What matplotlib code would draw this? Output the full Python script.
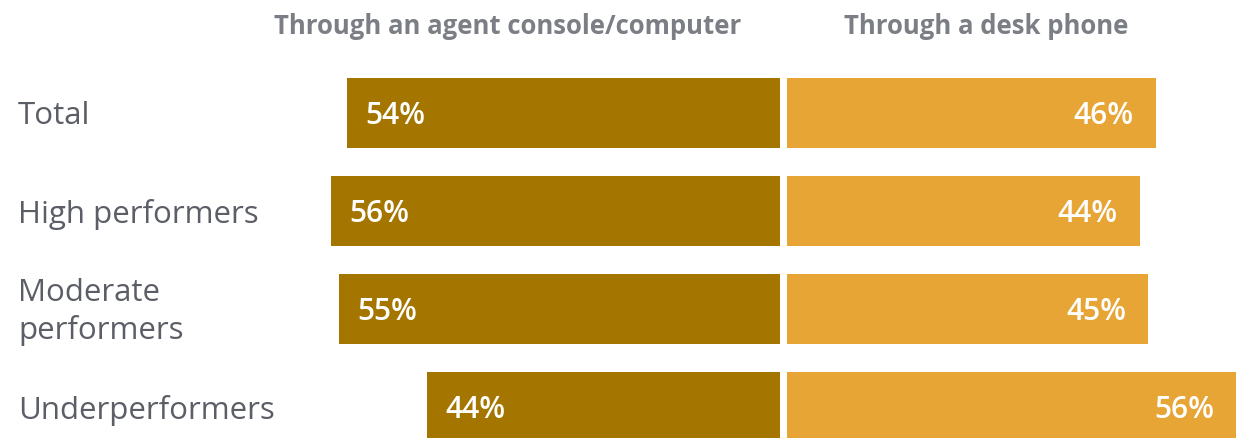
import matplotlib.pyplot as plt

# survey answers, share of agents (%)
categories = ["Total", "High performers", "Moderate\nperformers", "Underperformers"]
console_pct = [54, 56, 55, 44]
deskphone_pct = [46, 44, 45, 56]
headers = ["Through an agent console/computer", "Through a desk phone"]

DARK = "#A47600"
LIGHT = "#E6A535"
LABEL_GREY = "#5B5E66"
HEAD_GREY = "#7B7E84"

plt.rcParams['font.family'] = ['Open Sans', 'DejaVu Sans']

W, H = 1246, 438
fig = plt.figure(figsize=(W / 100, H / 100), dpi=100)
ax = fig.add_axes([0, 0, 1, 1])

px_per_pct = 8.02
center_px = 783.5
gap = 3.5 / px_per_pct  # half of the white gap in the middle

ys = range(len(categories))
bar_h = 70 / 98

ax.barh(ys, [-v for v in console_pct], left=-gap, height=bar_h, color=DARK)
ax.barh(ys, deskphone_pct, left=gap, height=bar_h, color=LIGHT)

for y, v in zip(ys, console_pct):
    ax.annotate(f"{v}%", xy=(-gap - v, y), xytext=(18, -3), textcoords="offset pixels",
                ha="left", va="center", color="white", fontsize=21.5, fontweight="semibold")
for y, v in zip(ys, deskphone_pct):
    ax.annotate(f"{v}%", xy=(gap + v, y), xytext=(-22, -3), textcoords="offset pixels",
                ha="right", va="center", color="white", fontsize=21.5, fontweight="semibold")

for y, name in zip(ys, categories):
    ax.annotate(name, xy=(0, y), xycoords=("axes fraction", "data"), xytext=(18, -3),
                textcoords="offset pixels", ha="left", va="center",
                color=LABEL_GREY, fontsize=22.5, linespacing=1.3)

ax.set_xlim(-center_px / px_per_pct, (W - center_px) / px_per_pct)
ax.set_ylim((H - 113) / 98, -113 / 98)
ax.axis("off")

fig.text(508 / W, 1 - 26 / H, headers[0], ha="center", va="center",
         color=HEAD_GREY, fontsize=18.5, fontweight="bold")
fig.text(986 / W, 1 - 26 / H, headers[1], ha="center", va="center",
         color=HEAD_GREY, fontsize=18.5, fontweight="bold")

fig.savefig("out.png", dpi=100, facecolor="white")
